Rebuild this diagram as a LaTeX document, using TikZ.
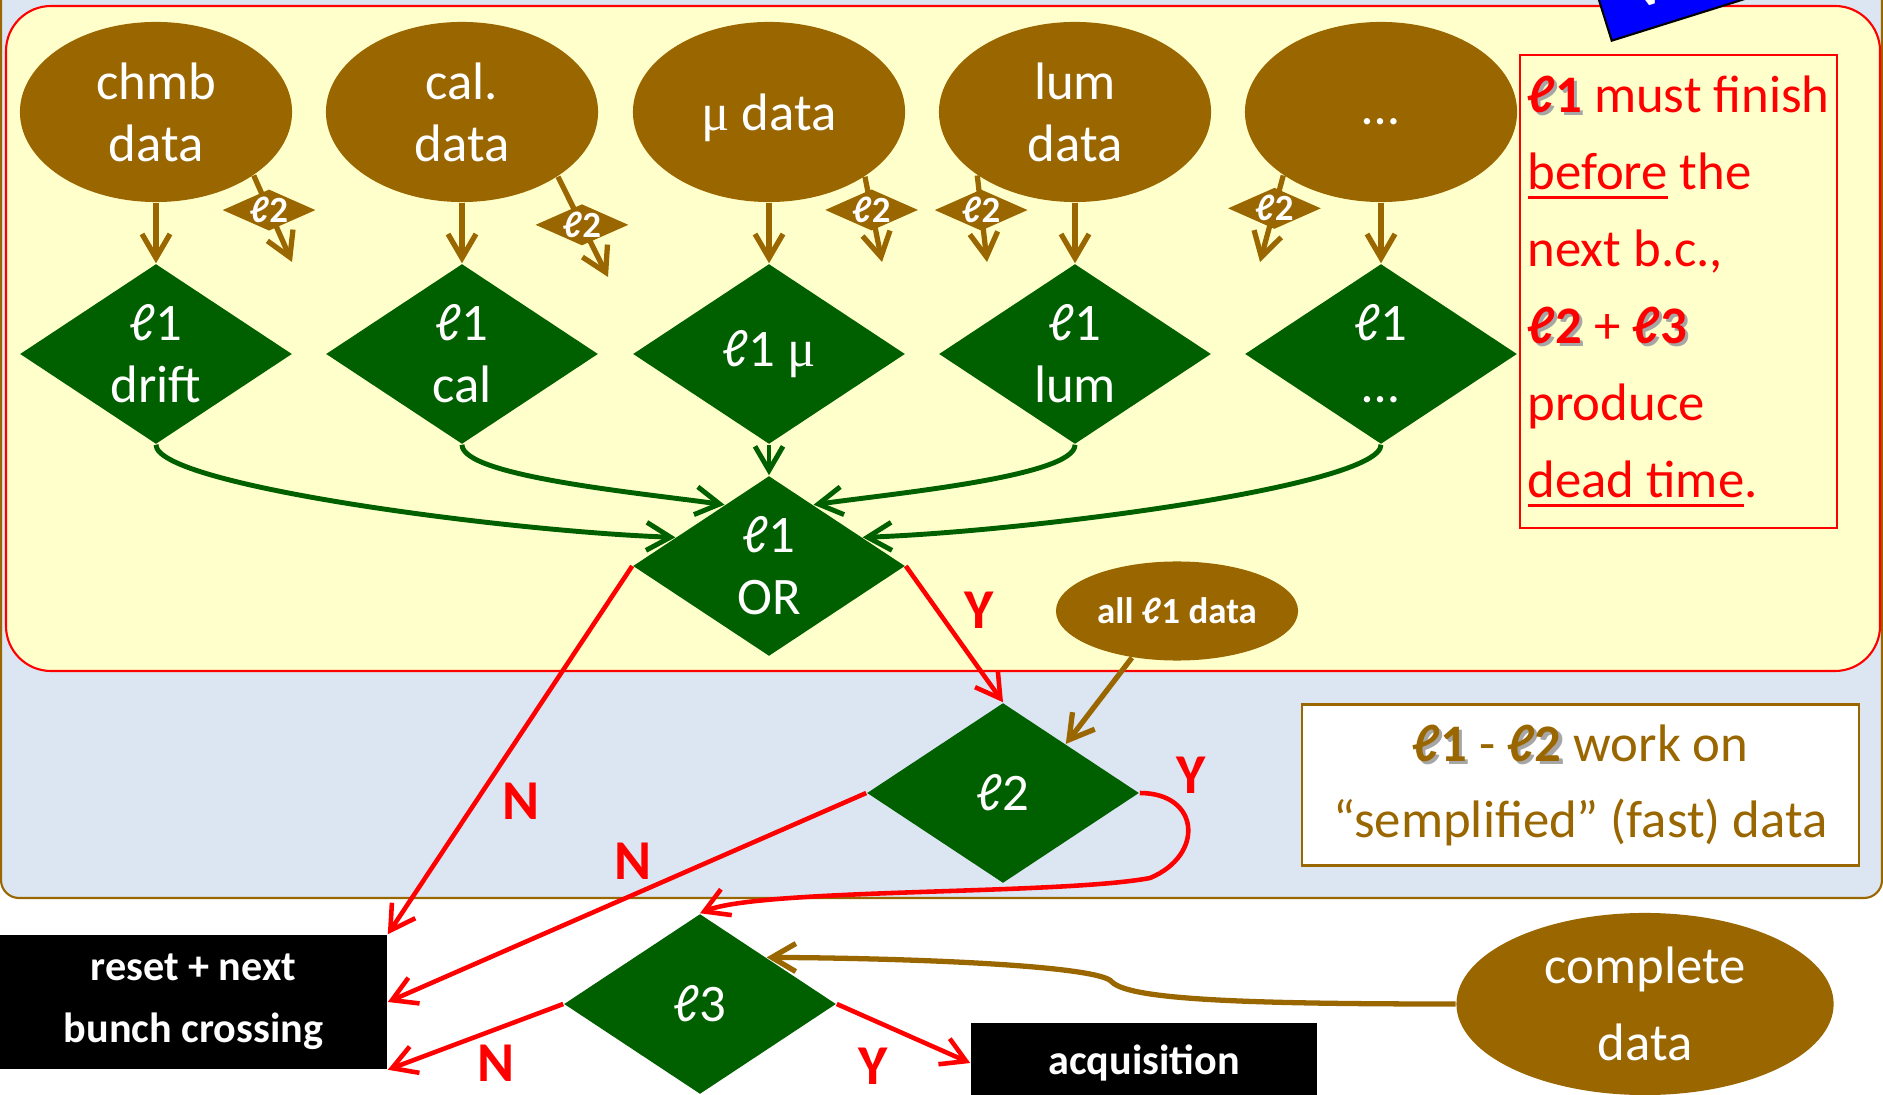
\documentclass[tikz,border=0pt]{standalone}
\usepackage{fontspec}
\setmainfont{Carlito}
\newfontfamily\mufont{Liberation Serif}
\usepackage{tikz}
\usetikzlibrary{arrows.meta,positioning,calc,shapes.geometric}
\definecolor{brn}{HTML}{996600}
\definecolor{dgreen}{HTML}{006000}
\definecolor{paleyel}{HTML}{FFFFCC}
\definecolor{palebl}{HTML}{DCE6F2}
\newcommand{\shd}[1]{\leavevmode\rlap{\kern0.9pt\raisebox{-0.9pt}{\textcolor{black!35}{#1}}}#1}
\newcommand{\undl}[1]{\leavevmode\vtop{\hbox{#1}\kern1.6pt\hrule height 1.1pt}}
\newcommand{\mug}{{\mufont μ}}
\tikzset{
  src/.style    ={ellipse,fill=brn,text=white,minimum width=2.72cm,minimum height=1.8cm,inner sep=0pt,align=center,font=\fontsize{15}{17.6}\selectfont},
  trig/.style   ={diamond,fill=dgreen,text=white,minimum width=2.72cm,minimum height=1.8cm,inner sep=0pt,aspect=1.5,align=center,font=\fontsize{15}{17.6}\selectfont},
  lvltwo/.style ={diamond,fill=brn,text=white,minimum width=0.89cm,minimum height=0.43cm,inner sep=0pt,aspect=2.2,font=\bfseries\fontsize{10.5}{10.5}\selectfont},
  outbox/.style ={rectangle,fill=black,text=white,inner sep=0pt,align=center,font=\bfseries\fontsize{12}{17.6}\selectfont},
  feed/.style   ={draw=brn,line width=1.5pt,-{Straight Barb[length=2.4mm,width=2.8mm]}},
  orline/.style ={draw=dgreen,line width=1.4pt,-{Straight Barb[length=2.4mm,width=2.8mm]}},
  yn/.style     ={draw=red,line width=1.3pt,-{Straight Barb[length=2.4mm,width=2.8mm]}},
  ynlab/.style  ={text=red,inner sep=0pt,font=\bfseries\fontsize{16}{16}\selectfont},
}
\begin{document}
\begin{tikzpicture}[x=0.01cm,y=-0.01cm]
  \useasboundingbox (0,0) rectangle (1883,1095);
  \clip (0,0) rectangle (1883,1095);
  % panels
  \draw[draw=brn,line width=0.6pt,fill=palebl,rounded corners=0.18cm] (1,-40) rectangle (1882,898);
  \draw[draw=red,line width=0.6pt,fill=paleyel,rounded corners=0.45cm] (6,6) rectangle (1880,671);
  \node[draw=black,fill=blue,line width=0.6pt,rotate=17.4,anchor=south west,minimum width=4cm,minimum height=1.5cm] (tag) at (1611,42) {};
  \node[text=white,rotate=17.4,anchor=base west,inner sep=0pt,font=\bfseries\fontsize{15}{15}\selectfont] (tagtxt) at (1640,9) {ve};
  % data sources and level 1
  \foreach \x/\nm/\txt/\dtxt in {156/chmb/{chmb\\data}/{ℓ1\\drift}, 462/cal/{cal.\\data}/{ℓ1\\cal},
      769/mu/{\raisebox{0pt}[12.8pt][2pt]{\mug{} data}}/{ℓ1 \mug}, 1075/lum/{lum\\data}/{ℓ1\\lum}, 1381/etc/{…\strut}/{ℓ1\\…}}{
    \node[src]  (\nm)  at (\x,112) {\txt};
    \node[trig] (\nm1) at (\x,354) {\dtxt};
    \draw[feed] (\nm) -- (\nm1);
  }
  % level 2 requests
  \foreach \nm/\ang/\tx/\ty/\p in {chmb/-33/292/262/0.4, cal/-34/608/277/0.48, mu/-34/882/262/0.39,
      lum/-147/987/262/0.4, etc/-147/1260/262/0.38}{
    \coordinate (\nm t) at (\tx,\ty);
    \draw[feed] (\nm.\ang) -- (\nm t) node[lvltwo,pos=\p] (\nm2) {ℓ2};
  }
  \node[trig] (or) at (769,566) {ℓ1\\OR};
  \draw[orline] (chmb1.south) to[out=-90,in=178,out looseness=0.2,in looseness=0.8] (or.163);
  \draw[orline] (cal1.south) to[out=-90,in=172,out looseness=0.3,in looseness=0.8] (or.126);
  \draw[orline] (mu1.south) -- (or.north);
  \draw[orline] (lum1.south) to[out=-90,in=8,out looseness=0.3,in looseness=0.8] (or.54);
  \draw[orline] (etc1.south) to[out=-90,in=2,out looseness=0.2,in looseness=0.8] (or.17);
  % level 2 and 3
  \node[trig] (l2) at (1003,793) {ℓ2};
  \node[trig] (l3) at (700,1004) {ℓ3};
  \node[src,minimum width=2.42cm,minimum height=0.99cm,font=\bfseries\fontsize{10.5}{12}\selectfont] (all1) at (1177,611) {all ℓ1 data};
  \node[src,minimum width=3.77cm,minimum height=1.82cm,font=\fontsize{15}{22}\selectfont] (cmpl) at (1645,1004) {complete\\data};
  \node[outbox,minimum width=3.87cm,minimum height=1.34cm] (reset) at (193.5,1002) {reset + next\\bunch crossing};
  \node[outbox,minimum width=3.46cm,minimum height=0.8cm] (acq) at (1144,1063) {acquisition};
  \draw[feed] (all1.-134) -- (l2.38);
  \draw[feed] (cmpl.west) .. controls (1250,1004) and (1130,1000) .. (1112,982)
      .. controls (1100,965) and (900,958) .. (l3.35);
  % decisions
  \draw[yn] (or.west) -- (reset.north east);
  \draw[yn] (or.east) -- (l2.north);
  \draw[yn] (l2.west) -- (reset.east);
  \draw[yn] (l2.east) .. controls (1200,793) and (1205,855) .. (1150,878)
      .. controls (1060,895) and (760,888) .. (l3.north);
  \draw[yn] (l3.west) -- (reset.south east);
  \draw[yn] (l3.east) -- (acq.west);
  \node[ynlab] (n1) at (521,801) {N};
  \node[ynlab] (y1) at (979,610) {Y};
  \node[ynlab] (n2) at (633,861) {N};
  \node[ynlab] (y2) at (1191,775) {Y};
  \node[ynlab] (n3) at (496,1063) {N};
  \node[ynlab] (y3) at (873,1066) {Y};
  % notes
  \node[draw=red,line width=0.6pt,text=red,minimum width=3.17cm,minimum height=4.73cm,align=left,inner sep=0pt,
        anchor=north west,font=\fontsize{15}{21.9}\selectfont] (note) at (1519,54)
        {\shd{\textbf{ℓ1}} must finish\\ \undl{before} the\\ next b.c.,\\ \shd{\textbf{ℓ2}} + \shd{\textbf{ℓ3}}\\ produce\\ \undl{dead time}.};
  \node[draw=brn,line width=0.6pt,fill=white,text=brn,minimum width=5.57cm,minimum height=1.61cm,align=center,inner sep=0pt,
        font=\fontsize{15}{21.6}\selectfont] (fast) at (1580.5,785)
        {\shd{\textbf{ℓ1}} - \shd{\textbf{ℓ2}} work on\\ “semplified” (fast) data};
\end{tikzpicture}
\end{document}
